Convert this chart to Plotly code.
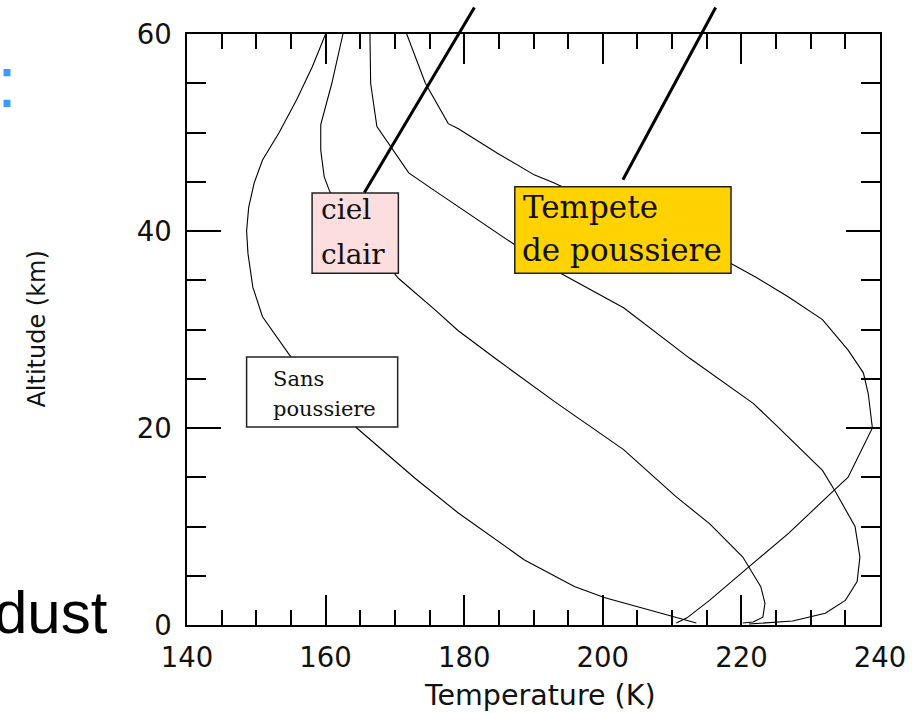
import plotly.graph_objects as go

# ---- data ----
sans_T = [160.0, 158.1, 155.8, 153.3, 150.9, 149.7, 148.9, 148.6, 148.8, 149.5, 150.9, 152.9, 154.8,
          159.5, 164.5, 172.9, 179.1, 188.7, 195.9, 200.2, 205.3, 210.2, 213.5]
sans_z = [60, 56.7, 53.3, 50, 47.2, 44.9, 42.4, 40, 37.7, 34.3, 31.3, 29.3, 27.4,
          23.7, 20.0, 14.9, 11.4, 6.6, 3.9, 2.8, 1.8, 0.8, 0.2]

clair_T = [162.5, 160.9, 159.3, 159.3, 159.8, 160.6, 165.5, 170.5, 175.8, 179.1, 184.8, 193.4, 203.0,
           210.6, 215.4, 220.2, 222.8, 223.4, 223.1, 221.7, 220.2]
clair_z = [60, 55, 50.8, 48.2, 45.5, 44.0, 39.5, 35.2, 32.0, 29.9, 26.9, 22.5, 17.8,
           13.0, 10.3, 6.9, 3.9, 2.2, 0.8, 0.3, 0.2]

storm1_T = [166.4, 166.5, 167.4, 169.5, 172.0, 175.3, 179.1, 187.3, 193.9, 203.0, 212.5, 221.7, 225.0,
            231.7, 233.6, 236.4, 237.1, 236.7, 235.0, 232.1, 227.4, 224.0, 221.1]
storm1_z = [60, 55, 50.6, 48.4, 45.9, 44.3, 42.5, 38.6, 35.7, 32.2, 27.1, 22.5, 20.3,
            15.7, 13.5, 10.0, 6.9, 4.4, 2.5, 1.2, 0.4, 0.2, 0.1]

storm2_T = [171.7, 174.4, 177.7, 179.1, 184.8, 190.1, 192.9, 205.0, 218.5, 222.1, 226.8, 231.7, 235.4,
            237.6, 238.3, 238.9, 235.4, 233.4, 226.8, 220.9, 215.4, 212.1, 210.6]
storm2_z = [60, 55, 50.9, 50.4, 47.9, 45.7, 44.9, 41.0, 36.7, 35.3, 33.3, 31.0, 27.9,
            25.6, 23.5, 20.0, 15.0, 13.7, 9.3, 5.8, 2.5, 0.7, 0.2]

x_ticks = [140, 160, 180, 200, 220, 240]
y_ticks = [0, 20, 40, 60]

# ---- figure ----
fig = go.Figure()
for T, z in [(sans_T, sans_z), (clair_T, clair_z), (storm1_T, storm1_z), (storm2_T, storm2_z)]:
    fig.add_trace(go.Scatter(x=T, y=z, mode="lines", line=dict(color="black", width=1.1),
                             showlegend=False, hoverinfo="skip"))

# label boxes (data coords)
boxes = [
    dict(x0=148.6, x1=170.4, y0=20.1, y1=27.2, fill="white"),
    dict(x0=158.05, x1=170.5, y0=35.7, y1=43.86, fill="#fcdede"),
    dict(x0=187.3, x1=218.5, y0=35.7, y1=44.5, fill="#ffd200"),
]
for b in boxes:
    fig.add_shape(type="rect", xref="x", yref="y", x0=b["x0"], x1=b["x1"], y0=b["y0"], y1=b["y1"],
                  fillcolor=b["fill"], line=dict(color="#222", width=1.5), layer="above")

labels = [
    ("Sans", 152.2, 25.0, "DejaVu Serif", 21),
    ("poussiere", 152.2, 21.9, "DejaVu Serif", 21),
    ("ciel", 159.2, 42.2, "DejaVu Serif", 28),
    ("clair", 159.2, 37.6, "DejaVu Serif", 28),
    ("Tempete", 188.3, 42.4, "DejaVu Serif", 31),
    ("de poussiere", 188.2, 38.1, "DejaVu Serif", 31),
]
anns = []
for txt, x, y, fam, sz in labels:
    anns.append(dict(text=txt, x=x, y=y, xref="x", yref="y", xanchor="left", yanchor="middle",
                     showarrow=False, borderpad=0, font=dict(family=fam, size=sz, color="#111")))

# pointer lines
pointers = [((165.6, 43.9), (181.6, 62.84)), ((202.9, 45.2), (216.4, 62.84))]
for (hx, hy), (tx, ty) in pointers:
    anns.append(dict(text="", x=hx, y=hy, xref="x", yref="y", ax=tx, ay=ty, axref="x", ayref="y",
                     showarrow=True, arrowhead=0, arrowwidth=3, arrowcolor="black", standoff=0,
                     startstandoff=0))

# axis titles
anns.append(dict(text="Temperature (K)", x=0.509, y=-0.120, xref="paper", yref="paper",
                 xanchor="center", yanchor="middle", showarrow=False, borderpad=0,
                 font=dict(family="DejaVu Sans", size=28.5, color="#111")))
anns.append(dict(text="Altitude (km)", x=(35 - 187) / 698, y=0.5, xref="paper", yref="paper",
                 xanchor="center", yanchor="middle", showarrow=False, textangle=-90, borderpad=0,
                 font=dict(family="DejaVu Sans", size=24, color="#111")))
# slide fragments
anns.append(dict(text="dust", x=(108 - 187) / 698, y=(625 - 612) / 591, xref="paper", yref="paper",
                 xanchor="right", yanchor="middle", showarrow=False, borderpad=0,
                 font=dict(family="Liberation Sans", size=60, color="black")))
anns.append(dict(text=":", x=(-5.6 - 187) / 698, y=(625 - 81.8) / 591, xref="paper", yref="paper",
                 xanchor="left", yanchor="middle", showarrow=False, borderpad=0,
                 font=dict(family="Liberation Sans", size=72, color="#3a9bff")))

axis_common = dict(showgrid=False, zeroline=False, showline=True, linecolor="black", linewidth=1.5,
                   mirror="ticks", ticks="inside", tickcolor="black", tickwidth=1.5,
                   tickfont=dict(family="DejaVu Sans", size=27.5, color="#111"))

fig.update_layout(
    width=918, height=713,
    margin=dict(l=187, r=33, t=34, b=88),
    paper_bgcolor="white", plot_bgcolor="white",
    xaxis=dict(range=[140, 240], tickvals=x_ticks, ticklen=30, ticklabelstandoff=7,
               minor=dict(dtick=5, ticklen=15, ticks="inside", tickcolor="black", tickwidth=1.5),
               **axis_common),
    yaxis=dict(range=[0, 60], tickvals=y_ticks, ticklen=34, ticklabelstandoff=8,
               minor=dict(dtick=5, ticklen=19, ticks="inside", tickcolor="black", tickwidth=1.5),
               **axis_common),
    annotations=anns,
    showlegend=False,
)

fig.write_html("out.html")
